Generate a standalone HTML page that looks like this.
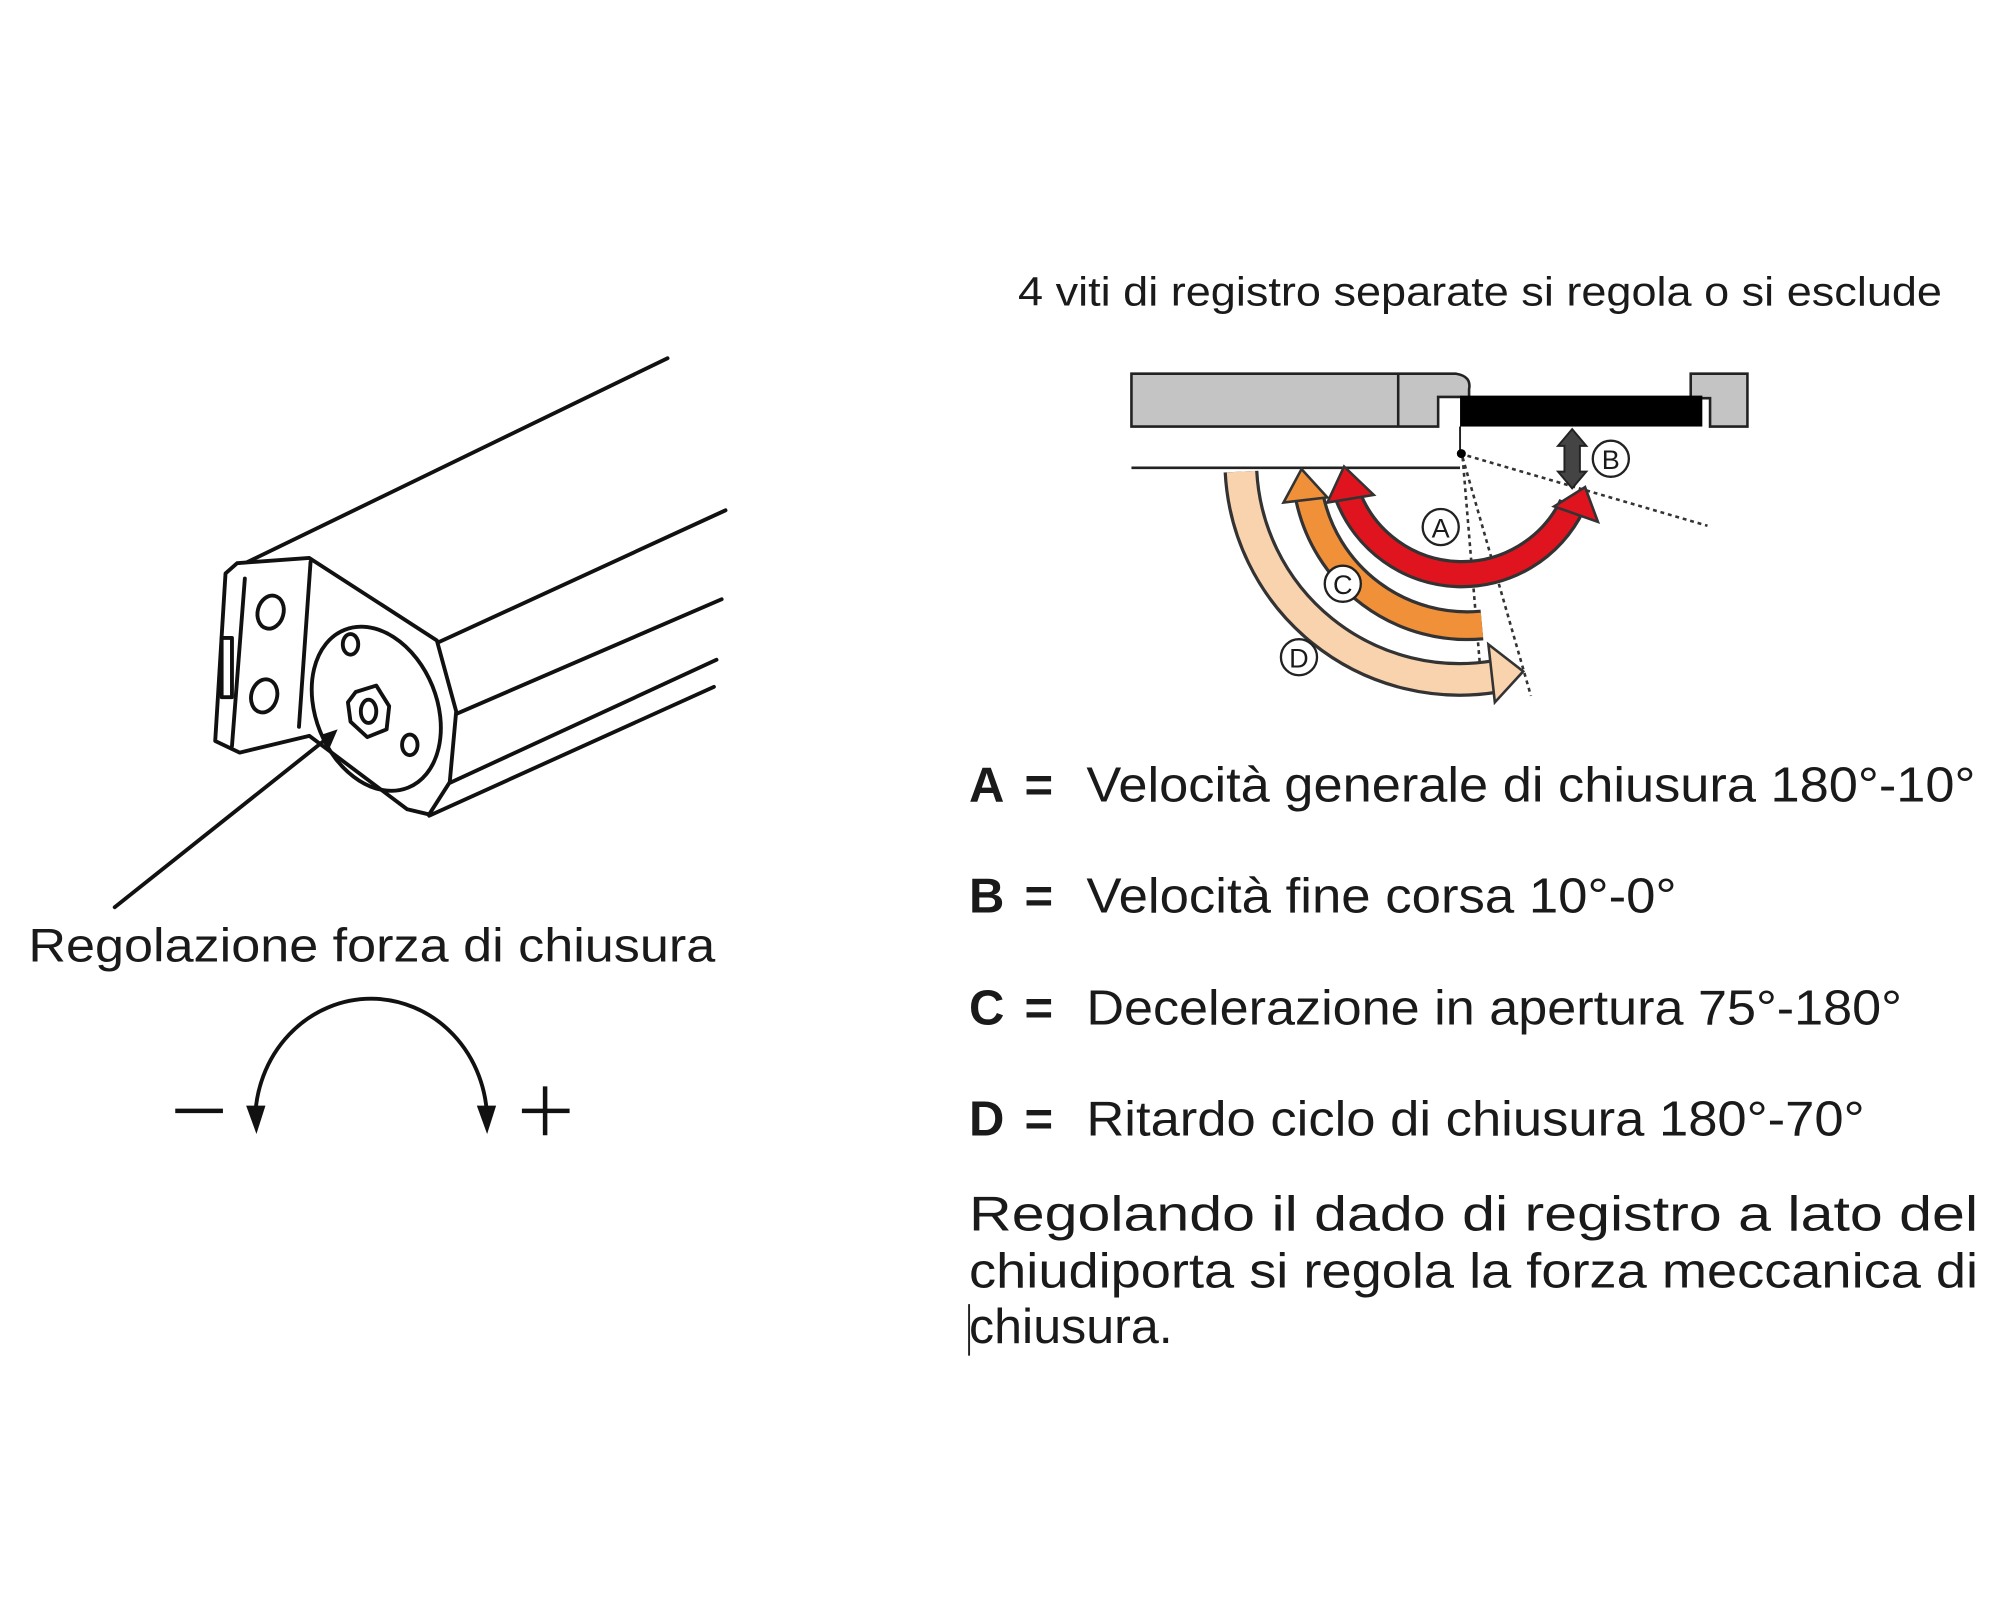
<!DOCTYPE html>
<html><head><meta charset="utf-8"><style>
html,body{margin:0;padding:0;background:#fff;}
svg{display:block;}
text{font-family:"Liberation Sans",sans-serif;fill:#1a1a1a;}
</style></head><body>
<svg width="2000" height="1600" viewBox="0 0 1552 1241.6" preserveAspectRatio="none" xmlns="http://www.w3.org/2000/svg">
<rect width="1552" height="1242" fill="#fff"/>
<!-- LEFT DRAWING -->
<g fill="none" stroke="#111" stroke-width="3" stroke-linejoin="round" stroke-linecap="round">
  <line x1="182" y1="441" x2="518" y2="278"/>
  <line x1="339" y1="499" x2="563" y2="396"/>
  <line x1="354" y1="554" x2="560" y2="465"/>
  <line x1="348" y1="608" x2="556" y2="512"/>
  <line x1="333" y1="633" x2="554" y2="533"/>
  <path d="M184 437 L240 433 L339 497 L354 552 L349 607 L333 632 L316 628 L240 571 L186 584 L167 575 L175 445 Z" fill="#fff"/>
  <line x1="241" y1="436" x2="232" y2="564"/>
  <line x1="190" y1="449" x2="180" y2="579"/>
  <rect x="172" y="495" width="8" height="46"/>
  <ellipse cx="210" cy="475" rx="10" ry="13" transform="rotate(15 210 475)"/>
  <ellipse cx="205" cy="540" rx="10" ry="13" transform="rotate(15 205 540)"/>
  <ellipse cx="292" cy="550" rx="47" ry="66" transform="rotate(-22 292 550)"/>
  <ellipse cx="272" cy="500" rx="6" ry="8"/>
  <ellipse cx="318" cy="578" rx="6" ry="8"/>
  <path d="M276 537 L292 532 L302 548 L300 566 L285 572 L272 560 L270 545 Z"/>
  <ellipse cx="286" cy="552" rx="6" ry="9"/>
  <line x1="255" y1="572" x2="89" y2="704"/>
  <path d="M198 870 A90 95 0 0 1 378 870"/>
</g>
<polygon points="262,566 250,570 256,580" fill="#111"/>
<polygon points="191,858 206,858 199,880" fill="#111"/>
<polygon points="370,858 385,858 378,880" fill="#111"/>
<line x1="136" y1="862" x2="173" y2="862" stroke="#111" stroke-width="3.5"/>
<line x1="405" y1="862" x2="442" y2="862" stroke="#111" stroke-width="3.5"/>
<line x1="423" y1="843" x2="423" y2="881" stroke="#111" stroke-width="3.5"/>
<text x="22" y="746" font-size="37" textLength="533" lengthAdjust="spacingAndGlyphs">Regolazione forza di chiusura</text>

<!-- RIGHT DIAGRAM -->
<text x="790" y="237" font-size="32" textLength="717" lengthAdjust="spacingAndGlyphs">4 viti di registro separate si regola o si esclude</text>
<g stroke="#222" stroke-width="2">
  <path d="M878 290 L1130 290 Q1142 292 1140 302 L1140 310 L1133 308 L1116 308 L1116 331 L878 331 Z" fill="#c4c4c4"/>
  <line x1="1085" y1="290" x2="1085" y2="331"/>
  <path d="M1312 290 L1356 290 L1356 331 L1327 331 L1327 309 L1312 309 Z" fill="#c4c4c4"/>
</g>
<rect x="1133" y="307" width="188" height="24" fill="#000"/>
<line x1="878" y1="363" x2="1133" y2="363" stroke="#222" stroke-width="2"/>
<line x1="1133" y1="331" x2="1133" y2="352" stroke="#222" stroke-width="1.5"/>
<g stroke="#333" stroke-width="2" stroke-dasharray="3,3" fill="none">
  <line x1="1133" y1="352" x2="1325" y2="408"/>
  <line x1="1135" y1="355" x2="1150" y2="535"/>
  <line x1="1135" y1="355" x2="1188" y2="540"/>
</g>
<circle cx="1134" cy="352" r="3.5" fill="#000"/>
<path d="M963 366 A170 170 0 0 0 1160 525" fill="none" stroke="#333" stroke-width="27"/>
<path d="M963 366 A170 170 0 0 0 1160 525" fill="none" stroke="#f9d3ae" stroke-width="22"/>
<polygon points="1155,500 1182,521 1160,545" fill="#f9d3ae" stroke="#333" stroke-width="2"/>
<path d="M1016 385 A125 125 0 0 0 1150 485" fill="none" stroke="#333" stroke-width="24"/>
<path d="M1016 385 A125 125 0 0 0 1150 485" fill="none" stroke="#f0913a" stroke-width="19"/>
<polygon points="1010,364 996,390 1030,386" fill="#f0913a" stroke="#333" stroke-width="2"/>
<path d="M1046 385 A95 95 0 0 0 1220 392" fill="none" stroke="#333" stroke-width="22"/>
<path d="M1046 385 A95 95 0 0 0 1220 392" fill="none" stroke="#e0141e" stroke-width="17"/>
<polygon points="1043,362 1030,390 1066,384" fill="#e0141e" stroke="#333" stroke-width="2"/>
<polygon points="1230,378 1206,393 1240,405" fill="#e0141e" stroke="#333" stroke-width="2"/>
<polygon points="1220,333 1231,346 1226,346 1226,366 1231,366 1220,379 1209,366 1214,366 1214,346 1209,346" fill="#444" stroke="#222" stroke-width="1.5"/>
<g fill="#fff" stroke="#222" stroke-width="1.8">
  <circle cx="1250" cy="356" r="14"/>
  <circle cx="1118" cy="409" r="14"/>
  <circle cx="1042" cy="453" r="14"/>
  <circle cx="1008" cy="510" r="14"/>
</g>
<g font-size="21" text-anchor="middle">
  <text x="1250" y="364">B</text>
  <text x="1118" y="417">A</text>
  <text x="1042" y="461">C</text>
  <text x="1008" y="518">D</text>
</g>

<g font-size="38">
  <text x="752" y="622" font-weight="bold">A</text><text x="795" y="622" font-weight="bold">=</text>
  <text x="843" y="622" textLength="690" lengthAdjust="spacingAndGlyphs">Velocità generale di chiusura 180°-10°</text>
  <text x="752" y="708" font-weight="bold">B</text><text x="795" y="708" font-weight="bold">=</text>
  <text x="843" y="708" textLength="458" lengthAdjust="spacingAndGlyphs">Velocità fine corsa 10°-0°</text>
  <text x="752" y="795" font-weight="bold">C</text><text x="795" y="795" font-weight="bold">=</text>
  <text x="843" y="795" textLength="633" lengthAdjust="spacingAndGlyphs">Decelerazione in apertura 75°-180°</text>
  <text x="752" y="881" font-weight="bold">D</text><text x="795" y="881" font-weight="bold">=</text>
  <text x="843" y="881" textLength="604" lengthAdjust="spacingAndGlyphs">Ritardo ciclo di chiusura 180°-70°</text>
  <text x="752" y="955" textLength="783" lengthAdjust="spacingAndGlyphs">Regolando il dado di registro a lato del</text>
  <text x="752" y="999" textLength="783" lengthAdjust="spacingAndGlyphs">chiudiporta si regola la forza meccanica di</text>
  <text x="752" y="1042" textLength="158" lengthAdjust="spacingAndGlyphs">chiusura.</text>
</g>
<line x1="752" y1="1012" x2="752" y2="1052" stroke="#222" stroke-width="1.5"/>
</svg>
</body></html>
